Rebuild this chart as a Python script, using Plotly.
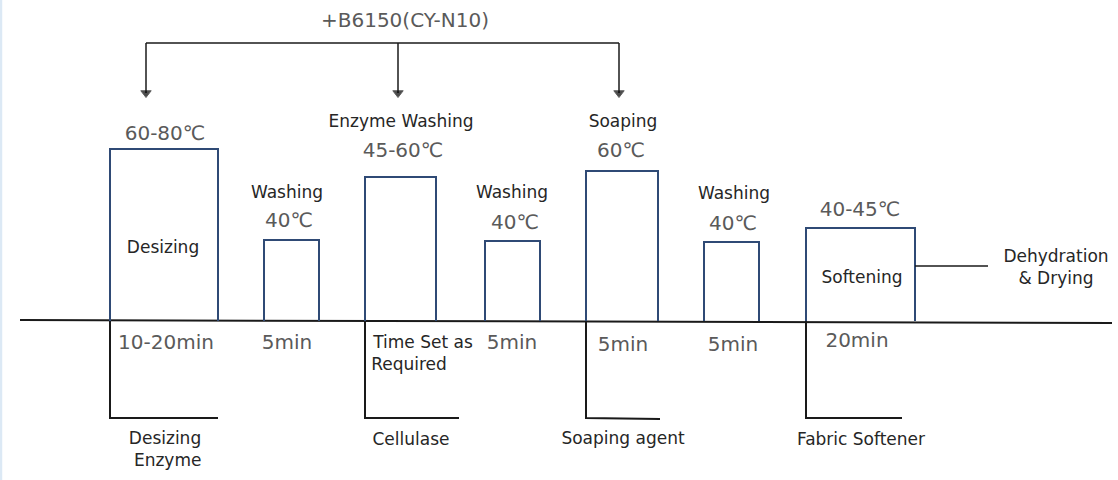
import plotly.graph_objects as go

# y is height above the process line, x runs along the process line
box_left = [110, 264, 365, 485, 586, 704, 806]
box_right = [218, 319, 436, 540, 658, 759, 915]
box_height = [172, 81, 144, 80, 150, 79, 93]

line_x = [20, 1112]
line_y = [1, -2]

# +B6150 dosing bracket
dose_x = [146, 398, 619]
dose_top = 278
dose_end = 228

# chemicals branching off below the line
chem_x = [110, 365, 586, 806]
chem_end = [218, 459, 660, 902]
chem_y = -97
chem_end_y = [-97, -97, -98, -97]

soft_x = [915, 988]
soft_y = [55, 55]

temp_text = ["+B6150(CY-N10)", "60-80℃", "45-60℃", "40℃", "40℃", "60℃", "40℃", "40-45℃",
             "10-20min", "5min", "5min", "5min", "5min", "20min"]
temp_x = [405, 165, 403, 289, 515, 621, 733, 860, 166, 287, 512, 623, 733, 857]
temp_y = [299, 186, 169, 99, 97, 169, 96, 110, -23, -23, -23, -25, -25, -21]

label_text = ["Enzyme Washing", "Washing", "Washing", "Soaping", "Washing", "Desizing", "Softening",
              "Dehydration<br>& Drying", "Time Set as", "Required", "Desizing<br> Enzyme",
              "Cellulase", "Soaping agent", "Fabric Softener"]
label_x = [401, 287, 512, 623, 734, 163, 862, 1056, 423, 409, 165, 411, 623, 861]
label_y = [198, 127, 127, 198, 126, 72, 42, 52, -23, -45, -130, -120, -119, -120]

fig = go.Figure()

# process line
fig.add_trace(go.Scatter(x=line_x, y=line_y, mode="lines", line=dict(color="#1a1a1a", width=2)))

# the boxes
for l, r, h in zip(box_left, box_right, box_height):
    fig.add_trace(go.Scatter(x=[l, l, r, r], y=[0, h, h, 0], mode="lines",
                             line=dict(color="#2f4a75", width=2)))

# bracket and arrows
fig.add_trace(go.Scatter(x=[dose_x[0], dose_x[-1]], y=[dose_top, dose_top], mode="lines",
                         line=dict(color="#1a1a1a", width=1.5)))
for x in dose_x:
    fig.add_trace(go.Scatter(x=[x, x], y=[dose_top, dose_end], mode="lines+markers",
                             marker=dict(symbol="triangle-down", size=[0, 9], color="#000000"),
                             line=dict(color="#1a1a1a", width=1.5)))

# chemicals
for x, e, ey in zip(chem_x, chem_end, chem_end_y):
    fig.add_trace(go.Scatter(x=[x, x, e], y=[0, chem_y, ey], mode="lines",
                             line=dict(color="#1a1a1a", width=2)))

fig.add_trace(go.Scatter(x=soft_x, y=soft_y, mode="lines", line=dict(color="#1a1a1a", width=1.5)))

fig.add_trace(go.Scatter(x=temp_x, y=temp_y, text=temp_text, mode="text",
                         textfont=dict(family="DejaVu Sans", size=20, color="#5a5a5a")))
fig.add_trace(go.Scatter(x=label_x, y=label_y, text=label_text, mode="text",
                         textfont=dict(family="DejaVu Sans", size=17, color="#262626")))

fig.update_xaxes(range=[0, 1118], visible=False)
fig.update_yaxes(range=[-159, 321], visible=False)
fig.update_layout(width=1118, height=480, margin=dict(l=0, r=0, t=0, b=0), showlegend=False,
                  plot_bgcolor="white", paper_bgcolor="white",
                  shapes=[dict(type="rect", xref="paper", yref="paper", x0=0, x1=0.002, y0=0, y1=1,
                               fillcolor="#dce9f5", line_width=0, layer="below")])
# the page's default body margin would push the figure 8px in
fig.write_html("out.html", config={"displayModeBar": False},
               post_script="document.body.style.margin='0';document.body.style.overflow='hidden';")
